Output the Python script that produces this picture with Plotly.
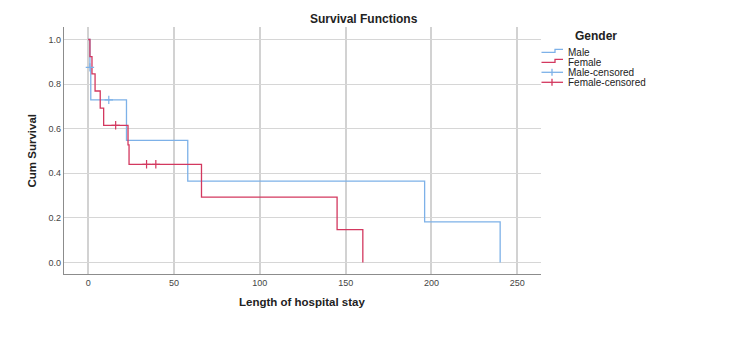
import plotly.graph_objects as go

# ---- data ----
male_time = [0, 1, 1.5, 22.3, 58, 196, 240]
male_surv = [1.0, 0.875, 0.729, 0.547, 0.365, 0.182, 0.0]
female_time = [0, 1, 2.2, 4, 7, 9, 23.2, 23.8, 66, 145, 160]
female_surv = [1.0, 0.923, 0.846, 0.769, 0.692, 0.615, 0.527, 0.440, 0.293, 0.147, 0.0]
male_cens_time = [1, 12]
male_cens_surv = [0.875, 0.729]
female_cens_time = [16, 34, 39.4]
female_cens_surv = [0.615, 0.440, 0.440]
x_ticks = [0, 50, 100, 150, 200, 250]
y_ticks = [0.0, 0.2, 0.4, 0.6, 0.8, 1.0]
legend_labels = ["Male", "Female", "Male-censored", "Female-censored"]

MALE = "#7db1e8"
FEMALE = "#d3385f"
FONT = "Liberation Sans, Arial, sans-serif"

W, H = 750, 352
L, R, T, B = 64, 541, 27, 274


def px(x):
    return (x - L) / (R - L)


def py(y):
    return (B - y) / (B - T)


fig = go.Figure()
fig.add_trace(go.Scatter(x=male_time, y=male_surv, mode="lines", line=dict(color=MALE, width=1.3, shape="hv"),
                         name="Male", showlegend=False))
fig.add_trace(go.Scatter(x=female_time, y=female_surv, mode="lines", line=dict(color=FEMALE, width=1.3, shape="hv"),
                         name="Female", showlegend=False))
fig.add_trace(go.Scatter(x=male_cens_time, y=male_cens_surv, mode="markers",
                         marker=dict(symbol="cross-thin", size=6, line=dict(color=MALE, width=1.2)),
                         name="Male-censored", showlegend=False))
fig.add_trace(go.Scatter(x=female_cens_time, y=female_cens_surv, mode="markers",
                         marker=dict(symbol="cross-thin", size=6, line=dict(color=FEMALE, width=1.2)),
                         name="Female-censored", showlegend=False))

shapes = []
annotations = []
# legend (custom, compact like SPSS)
colors = [MALE, FEMALE, MALE, FEMALE]
ys = [52.3, 62.3, 72.3, 82.3]
for i, (lab, col, yy) in enumerate(zip(legend_labels, colors, ys)):
    if i < 2:
        path = (f"M {px(541.5)},{py(yy)} L {px(555)},{py(yy)} L {px(555)},{py(yy-3)} "
                f"L {px(563)},{py(yy-3)}")
        shapes.append(dict(type="path", xref="paper", yref="paper", path=path,
                           line=dict(color=col, width=1.3)))
    else:
        shapes.append(dict(type="line", xref="paper", yref="paper", x0=px(541.5), x1=px(563),
                           y0=py(yy), y1=py(yy), line=dict(color=col, width=1.3)))
        shapes.append(dict(type="line", xref="paper", yref="paper", x0=px(552), x1=px(552),
                           y0=py(yy - 3.5), y1=py(yy + 3.5), line=dict(color=col, width=1.3)))
    annotations.append(dict(xref="paper", yref="paper", x=px(565.5), y=py(yy), text=lab,
                            showarrow=False, xanchor="left", yanchor="middle", height=10,
                            font=dict(family=FONT, size=10, color="#222")))
annotations.append(dict(xref="paper", yref="paper", x=px(596), y=py(36.5), text="<b>Gender</b>",
                        showarrow=False, xanchor="center", yanchor="middle",
                        font=dict(family=FONT, size=12, color="#222")))
annotations.append(dict(xref="paper", yref="paper", x=px(364), y=py(19), text="<b>Survival Functions</b>",
                        showarrow=False, xanchor="center", yanchor="middle",
                        font=dict(family=FONT, size=12, color="#222")))
annotations.append(dict(xref="paper", yref="paper", x=px(302), y=py(302), text="<b>Length of hospital stay</b>",
                        showarrow=False, xanchor="center", yanchor="middle",
                        font=dict(family=FONT, size=11.5, color="#222")))
annotations.append(dict(xref="paper", yref="paper", x=px(31.5), y=py(151), text="<b>Cum Survival</b>",
                        showarrow=False, xanchor="center", yanchor="middle", textangle=-90,
                        font=dict(family=FONT, size=11.5, color="#222")))

fig.update_layout(
    width=W, height=H,
    margin=dict(l=L, r=W - R, t=T, b=H - B),
    plot_bgcolor="white", paper_bgcolor="white",
    showlegend=False,
    shapes=shapes, annotations=annotations,
    xaxis=dict(range=[-14.1, 263.8], tickvals=x_ticks, ticktext=[str(v) for v in x_ticks],
               showgrid=True, gridcolor="#d2d2d2", gridwidth=1.5, zeroline=False,
               showline=True, linecolor="#8c8c8c", linewidth=1.3, ticks="",
               tickfont=dict(family=FONT, size=9, color="#444")),
    yaxis=dict(range=[-0.052, 1.056], tickvals=y_ticks, ticktext=[f"{v:.1f}" for v in y_ticks],
               showgrid=True, gridcolor="#d6d6d6", gridwidth=1.3, zeroline=False,
               showline=True, linecolor="#8c8c8c", linewidth=1.3, ticks="",
               tickfont=dict(family=FONT, size=9, color="#444")),
)

fig.write_html("out.html")
